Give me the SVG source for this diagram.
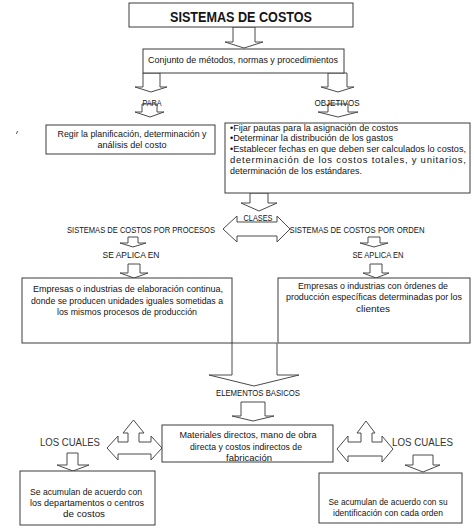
<svg xmlns="http://www.w3.org/2000/svg" width="474" height="531" viewBox="0 0 474 531">
<style>
.bx{fill:#fff;stroke:#3c3c3c;stroke-width:1}
.ar{fill:#fff;stroke:#4a4a4a;stroke-width:1;stroke-linejoin:miter}
text{font-family:"Liberation Sans",Arial,sans-serif;fill:#141414;font-size:9.5px}
.c{text-anchor:middle}
.t{font-size:14px;font-weight:bold}
.lc{font-size:10.5px;fill:#333}
</style>
<rect width="474" height="531" fill="#fff"/>
<g id="connectors">
<polygon class="ar" points="233,27 255,27 255,42 263,42 244,48 225,42 233,42"/>
<polygon class="ar" points="143,73 160,73 160,87 167,87 151,92 135,87 143,87"/>
<polygon class="ar" points="328,73 347,73 347,87 354,87 338,92 321,87 328,87"/>
<polygon class="ar" points="142,104 157,104 157,112 164,112 150,117 135,112 142,112"/>
<polygon class="ar" points="328,104 348,104 348,112 358,112 338,117 318,112 328,112"/>
<polygon class="ar" points="250,193 268,193 268,203 277,203 259,211 241,203 250,203"/>
<polygon class="ar" points="223,229 237,216 237,222 277,222 277,216 290,229 277,242 277,236 237,236 237,242"/>
<polygon class="ar" points="128,237 138,237 138,243 146,243 133,247 120,243 128,243"/>
<polygon class="ar" points="128,264 140,264 140,273 148,273 134,278 120,273 128,273"/>
<polygon class="ar" points="368,237 380,237 380,243 388,243 374,247 360,243 368,243"/>
<polygon class="ar" points="370,264 382,264 382,273 389,273 376,278 363,273 370,273"/>
<polygon class="ar" points="232,343 277,343 277,375 299,375 254,386 209,375 232,375"/>
<polygon class="ar" points="241,402 265,402 265,416 274,416 253,421 232,416 241,416"/>
<polygon class="ar" points="107,448 118,436 118,442 128,442 128,433 123,433 133.5,420 144,433 139,433 139,442 151,442 151,436 162,448 151,460 151,454 118,454 118,460"/>
<polygon class="ar" points="337,449 348,436 348,442 361,442 361,433 357,433 366,421 375,433 372,433 372,442 382,442 382,436 393,449 382,462 382,456 348,456 348,462"/>
<polygon class="ar" points="67,453 78,453 78,465 89,465 73,471 57,465 67,465"/>
<polygon class="ar" points="413,455 433,455 433,465 440,465 423,472 405,465 413,465"/>
</g>
<g id="title">
<rect class="bx" x="129" y="3" width="224" height="24"/>
<text class="c t" x="241" y="22" textLength="142" lengthAdjust="spacingAndGlyphs">SISTEMAS DE COSTOS</text>
</g>
<g id="conjunto">
<rect class="bx" x="143" y="49" width="201" height="24"/>
<text class="c" x="243" y="63" textLength="190" lengthAdjust="spacingAndGlyphs">Conjunto de métodos, normas y procedimientos</text>
</g>
<g id="para"><text class="c" x="152" y="106" textLength="19" lengthAdjust="spacingAndGlyphs">PARA</text></g>
<g id="objetivos"><text class="c" x="337" y="106" textLength="45" lengthAdjust="spacingAndGlyphs">OBJETIVOS</text></g>
<g id="mark"><path d="M17.5,131 L16.5,134" stroke="#555" stroke-width="1"/></g>
<g id="regir">
<rect class="bx" x="46" y="125" width="169" height="29"/>
<text class="c" x="132" y="137" textLength="149" lengthAdjust="spacingAndGlyphs">Regir la planificación, determinación y</text>
<text class="c" x="132" y="148" textLength="69" lengthAdjust="spacingAndGlyphs">análisis del costo</text>
</g>
<g id="objetivos-box">
<rect class="bx" x="225" y="123" width="245" height="70"/>
<text x="230" y="131" textLength="168" lengthAdjust="spacingAndGlyphs">•Fijar pautas para la asignación de costos</text>
<text x="230" y="141" textLength="163" lengthAdjust="spacingAndGlyphs">•Determinar la distribución de los gastos</text>
<text x="230" y="152" textLength="236" lengthAdjust="spacingAndGlyphs">•Establecer fechas en que deben ser calculados lo costos,</text>
<text x="230" y="163" textLength="236" lengthAdjust="spacing">determinación de los costos totales, y unitarios,</text>
<text x="230" y="174" textLength="132" lengthAdjust="spacingAndGlyphs">determinación de los estándares.</text>
</g>
<g id="clases"><text class="c" x="258" y="221" textLength="29" lengthAdjust="spacingAndGlyphs">CLASES</text></g>
<g id="procesos"><text class="c" x="141" y="233" textLength="148" lengthAdjust="spacingAndGlyphs">SISTEMAS DE COSTOS POR PROCESOS</text></g>
<g id="orden"><text class="c" x="357" y="233" textLength="135" lengthAdjust="spacingAndGlyphs">SISTEMAS DE COSTOS POR ORDEN</text></g>
<g id="aplica-izq"><text class="c" x="131" y="258" textLength="57" lengthAdjust="spacingAndGlyphs">SE APLICA EN</text></g>
<g id="aplica-der"><text class="c" x="378" y="258" textLength="51" lengthAdjust="spacingAndGlyphs">SE APLICA EN</text></g>
<g id="empresas-continua">
<rect class="bx" x="22" y="278" width="210" height="65"/>
<text class="c" x="128" y="292" textLength="190" lengthAdjust="spacingAndGlyphs">Empresas o industrias de elaboración continua,</text>
<text class="c" x="127" y="304" textLength="192" lengthAdjust="spacingAndGlyphs">donde se producen unidades iguales sometidas a</text>
<text class="c" x="127" y="315" textLength="140" lengthAdjust="spacingAndGlyphs">los mismos procesos de producción</text>
</g>
<g id="empresas-ordenes">
<rect class="bx" x="278" y="278" width="192" height="65"/>
<text class="c" x="373" y="289" textLength="150" lengthAdjust="spacingAndGlyphs">Empresas o industrias con órdenes de</text>
<text class="c" x="374" y="300" textLength="176" lengthAdjust="spacingAndGlyphs">producción específicas determinadas por los</text>
<text class="c" x="373" y="312" textLength="34" lengthAdjust="spacingAndGlyphs">clientes</text>
</g>
<g id="elementos"><text class="c" x="258" y="396" textLength="84" lengthAdjust="spacingAndGlyphs">ELEMENTOS BASICOS</text></g>
<g id="materiales">
<rect class="bx" x="162" y="425" width="171" height="37"/>
<text class="c" x="248" y="438" textLength="137" lengthAdjust="spacingAndGlyphs">Materiales directos, mano de obra</text>
<text class="c" x="246" y="450" textLength="112" lengthAdjust="spacingAndGlyphs">directa y costos indirectos de</text>
<text class="c" x="249" y="461" textLength="46" lengthAdjust="spacingAndGlyphs">fabricación</text>
</g>
<g id="cuales-izq"><text class="lc" x="40" y="446" textLength="60" lengthAdjust="spacingAndGlyphs">LOS CUALES</text></g>
<g id="cuales-der"><text class="lc" x="392" y="446" textLength="61" lengthAdjust="spacingAndGlyphs">LOS CUALES</text></g>
<g id="departamentos">
<rect class="bx" x="20" y="471" width="135" height="54"/>
<text x="30" y="495" textLength="112" lengthAdjust="spacingAndGlyphs">Se acumulan de acuerdo con</text>
<text x="30" y="506" textLength="114" lengthAdjust="spacingAndGlyphs">los departamentos o centros</text>
<text x="63" y="517" textLength="42" lengthAdjust="spacingAndGlyphs">de costos</text>
</g>
<g id="identificacion">
<rect class="bx" x="319" y="473" width="143" height="50"/>
<text class="c" x="388" y="505" textLength="119" lengthAdjust="spacingAndGlyphs">Se acumulan de acuerdo con su</text>
<text class="c" x="388" y="516" textLength="110" lengthAdjust="spacingAndGlyphs">identificación con cada orden</text>
</g>
</svg>
